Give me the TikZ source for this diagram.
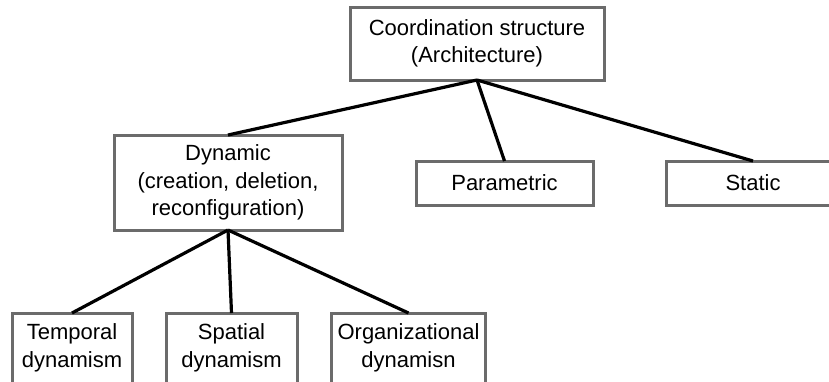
\documentclass[tikz,border=0pt]{standalone}
\usepackage{fontspec}
\setmainfont{Liberation Sans}
\begin{document}
\begin{tikzpicture}[x=1pt,y=-1pt,
  box/.style={draw=boxgray, line width=3pt, fill=white, inner sep=0pt, outer sep=0pt,
    align=center, font=\fontsize{22}{27.5}\selectfont, text=black},
  link/.style={draw=black, line width=3.2pt}]
\definecolor{boxgray}{HTML}{6B6B6B}
\useasboundingbox (0,0) rectangle (829,381);
\clip (0,0) rectangle (829,381);
\fill[white] (0,0) rectangle (829,381);
\node[box, minimum width=254pt, minimum height=73pt] (root) at (477,43.5) {Coordination structure\\(Architecture)};
\node[box, minimum width=228pt, minimum height=95pt] (dyn) at (228,182.5) {Dynamic\\(creation, deletion,\\reconfiguration)};
\node[box, minimum width=177pt, minimum height=44pt] (par) at (504.5,183) {Parametric};
\node[box, minimum width=174pt, minimum height=44pt] (sta) at (753,183) {Static};
\node[box, minimum width=120pt, minimum height=70pt] (tem) at (72,348) {Temporal\\dynamism};
\node[box, minimum width=131pt, minimum height=70pt] (spa) at (231.5,348) {Spatial\\dynamism};
\node[box, minimum width=154pt, minimum height=70pt] (org) at (408.5,348) {Organizational\\dynamisn};
\draw[link] (root.south) -- (dyn.north);
\draw[link] (root.south) -- (par.north);
\draw[link] (root.south) -- (sta.north);
\draw[link] (dyn.south) -- (tem.north);
\draw[link] (dyn.south) -- (spa.north);
\draw[link] (dyn.south) -- (org.north);
\end{tikzpicture}
\end{document}
